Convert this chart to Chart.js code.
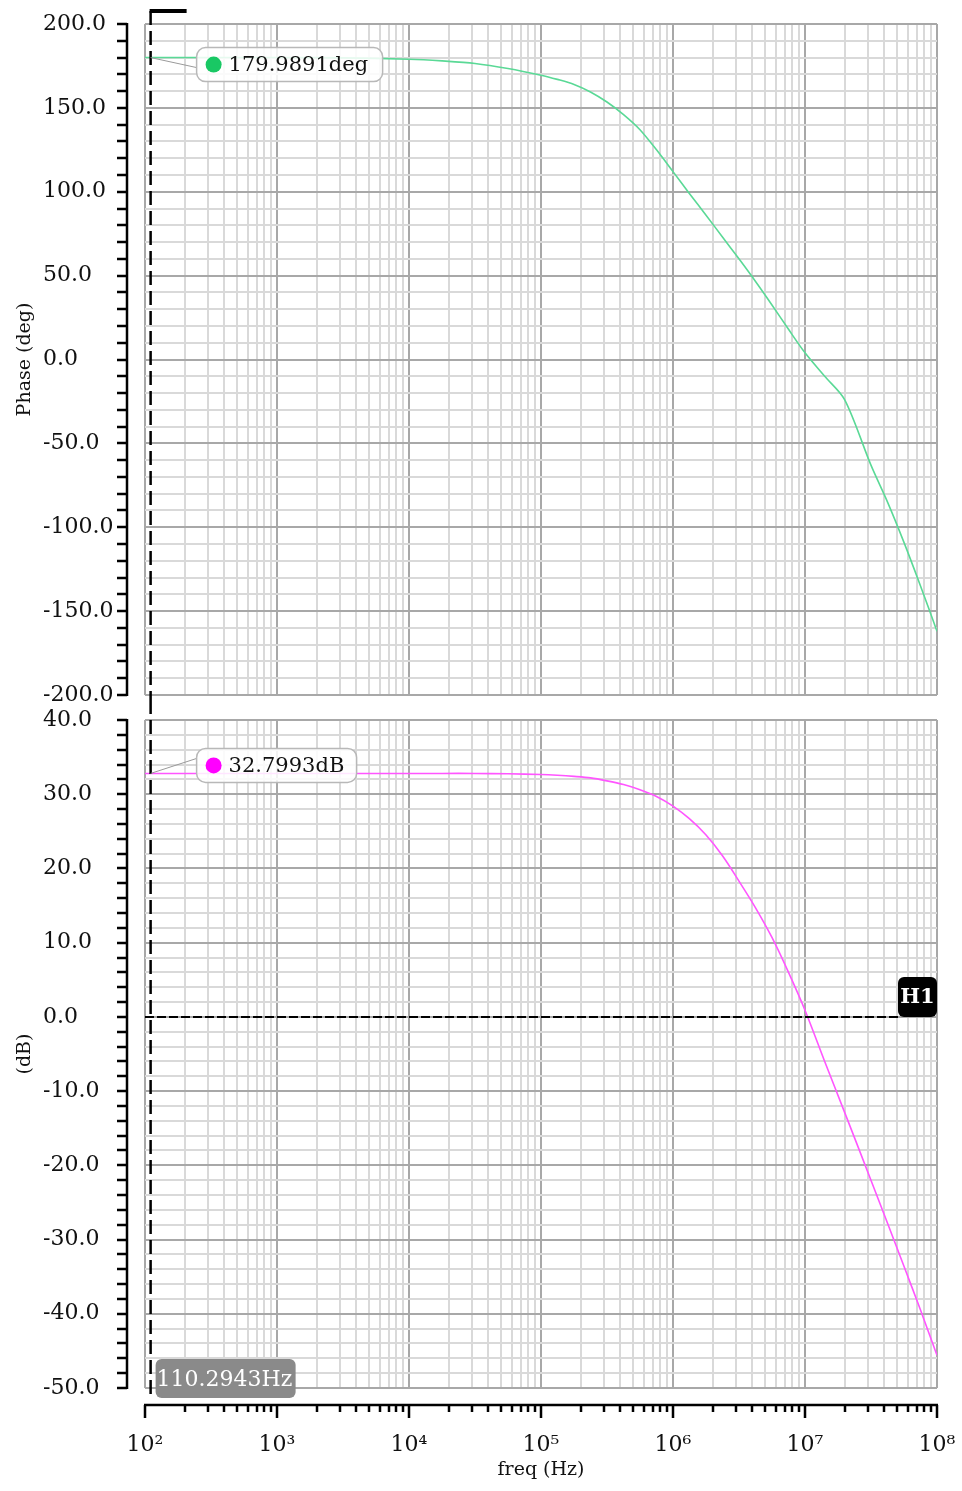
<!DOCTYPE html>
<html>
<head>
<meta charset="utf-8">
<script src="https://cdn.jsdelivr.net/npm/chart.js@4.4.1/dist/chart.umd.min.js"></script>
<style>
  html, body { margin: 0; padding: 0; background: #fff; }
  body { width: 962px; height: 1491px; position: relative; overflow: hidden; }
  canvas { position: absolute; left: 0; }
  #phase { top: 0; width: 962px; height: 712px; }
  #gain  { top: 700px; width: 962px; height: 791px; }
</style>
</head>
<body>
<canvas id="phase" width="962" height="712"></canvas>
<canvas id="gain" width="962" height="791"></canvas>
<script>
// ── Data ────────────────────────────────────────────────
const freqHz   = [1e2, 3.16e2, 1e3, 3.16e3, 1e4, 1.78e4, 3.16e4, 5.62e4,
                  1e5, 1.33e5, 1.78e5, 2.37e5, 3.16e5, 4.22e5, 5.62e5, 7.5e5,
                  1e6, 1.33e6, 1.78e6, 2.37e6, 3.16e6, 4.22e6, 5.62e6, 7.5e6,
                  1e7, 1.41e7, 2e7, 3.16e7, 4.22e7, 5.62e7, 7.5e7, 1e8];
const phaseDeg = [180, 180, 180, 179.8, 179, 178, 176.5, 173.5,
                  169.5, 167, 164, 159.5, 153.5, 146, 137, 125,
                  112, 99, 86, 73, 60, 46.5, 32.5, 18,
                  4, -10, -24, -63, -85, -109, -135, -162];
const gainDb   = [32.8, 32.8, 32.8, 32.8, 32.8, 32.8, 32.8, 32.75,
                  32.65, 32.55, 32.4, 32.2, 31.8, 31.3, 30.6, 29.7,
                  28.4, 26.7, 24.5, 21.7, 18.3, 14.7, 10.7, 6.0,
                  0.9, -6.0, -12.9, -22.0, -27.8, -33.6, -39.5, -45.6];

// axis ticks
const decadeHz     = [1e2, 1e3, 1e4, 1e5, 1e6, 1e7, 1e8];
const decadeLabels = ['10²', '10³', '10⁴', '10⁵', '10⁶', '10⁷', '10⁸'];
const minorSteps   = [2, 3, 4, 5, 6, 7, 8, 9];

// markers
const markerFreq  = 110.2943;
const markerPhase = 179.9891;
const markerGain  = 32.7993;
const h1Level     = 0;

// ── Shared look ─────────────────────────────────────────
const SERIF = '"DejaVu Serif", "Liberation Serif", serif';
const GRID_MINOR = '#d9d9d9';
const GRID_MAJOR = '#a8a8a8';
const PHASE_COLOR = '#5ad996';
const GAIN_COLOR  = '#ff55ff';

const xTickValues = [];
decadeHz.slice(0, -1).forEach(d => {
  xTickValues.push(d);
  minorSteps.forEach(m => xTickValues.push(d * m));
});
xTickValues.push(decadeHz[decadeHz.length - 1]);

const isDecade = v => decadeHz.some(d => Math.abs(d - v) < d * 1e-6);

function roundRect(ctx, x, y, w, h, r) {
  ctx.beginPath();
  ctx.moveTo(x + r, y);
  ctx.arcTo(x + w, y, x + w, y + h, r);
  ctx.arcTo(x + w, y + h, x, y + h, r);
  ctx.arcTo(x, y + h, x, y, r);
  ctx.arcTo(x, y, x + w, y, r);
  ctx.closePath();
}

// offset axis lines with tick marks (drawn apart from the plot box)
const offsetAxes = {
  id: 'offsetAxes',
  afterDraw(chart, args, o) {
    const { ctx, chartArea: a, scales: { x, y } } = chart;
    ctx.save();
    ctx.strokeStyle = '#000';
    ctx.lineWidth = 2.5;
    const ax = a.left - 18;
    ctx.beginPath();
    ctx.moveTo(ax, a.top - 1);
    ctx.lineTo(ax, a.bottom + 1);
    y.ticks.forEach(t => {
      const py = Math.round(y.getPixelForValue(t.value));
      ctx.moveTo(ax - 10, py);
      ctx.lineTo(ax, py);
    });
    ctx.stroke();
    if (o.xAxis) {
      const ay = a.bottom + 17;
      ctx.beginPath();
      ctx.moveTo(a.left - 1, ay);
      ctx.lineTo(a.right + 1, ay);
      xTickValues.forEach(v => {
        const px = Math.round(x.getPixelForValue(v));
        ctx.moveTo(px, ay);
        ctx.lineTo(px, ay + (isDecade(v) ? 13 : 7));
      });
      ctx.stroke();
    }
    ctx.restore();
  }
};

// marker cursor, value bubble, H1 line
const markers = {
  id: 'markers',
  afterDraw(chart, args, o) {
    const { ctx, chartArea: a, scales: { x, y } } = chart;
    const mx = x.getPixelForValue(markerFreq);
    const my = y.getPixelForValue(o.value);
    ctx.save();

    // H1 horizontal cursor
    if (o.h1) {
      const hy = Math.round(y.getPixelForValue(h1Level));
      ctx.strokeStyle = '#000';
      ctx.lineWidth = 2;
      ctx.setLineDash([9, 3]);
      ctx.beginPath();
      ctx.moveTo(a.left, hy);
      ctx.lineTo(a.right - 38, hy);
      ctx.stroke();
      ctx.setLineDash([]);
      ctx.fillStyle = '#000';
      roundRect(ctx, a.right - 39, hy - 40, 39, 40, 6);
      ctx.fill();
      ctx.fillStyle = '#fff';
      ctx.font = 'bold 21px ' + SERIF;
      ctx.textAlign = 'center';
      ctx.textBaseline = 'middle';
      ctx.fillText('H1', a.right - 19.5, hy - 19);
    }

    // vertical dashed cursor
    ctx.strokeStyle = '#000';
    ctx.lineWidth = 2.5;
    ctx.setLineDash([14, 6]);
    ctx.beginPath();
    ctx.moveTo(mx, o.lineTop);
    ctx.lineTo(mx, o.lineBottom);
    ctx.stroke();
    ctx.setLineDash([]);
    if (o.flag) {
      ctx.lineWidth = 4;
      ctx.beginPath();
      ctx.moveTo(mx - 1, o.lineTop);
      ctx.lineTo(mx + 36, o.lineTop);
      ctx.stroke();
    }

    // value bubble
    const bx = mx + 46, bw = o.bubbleW, bh = 34, by = my + o.bubbleDy;
    ctx.strokeStyle = '#9a9a9a';
    ctx.lineWidth = 1;
    ctx.beginPath();
    ctx.moveTo(mx, my);
    ctx.lineTo(bx, my + o.leaderDy);
    ctx.stroke();
    ctx.fillStyle = 'rgba(255,255,255,0.85)';
    ctx.strokeStyle = '#b8b8b8';
    ctx.lineWidth = 1.5;
    roundRect(ctx, bx, by, bw, bh, 9);
    ctx.fill();
    ctx.stroke();
    ctx.fillStyle = o.dotColor;
    ctx.beginPath();
    ctx.arc(bx + 17, by + 17, 8, 0, Math.PI * 2);
    ctx.fill();
    ctx.fillStyle = '#111';
    ctx.font = '21px ' + SERIF;
    ctx.textAlign = 'left';
    ctx.textBaseline = 'middle';
    ctx.fillText(o.text, bx + 32, by + 18);

    // frequency readout
    if (o.freqLabel) {
      ctx.fillStyle = '#8a8a8a';
      roundRect(ctx, mx + 5, a.bottom - 29, 140, 39, 6);
      ctx.fill();
      ctx.fillStyle = '#fff';
      ctx.font = '22px ' + SERIF;
      ctx.textAlign = 'left';
      ctx.textBaseline = 'middle';
      ctx.fillText(markerFreq.toFixed(4) + 'Hz', mx + 6, a.bottom - 8);
    }
    ctx.restore();
  }
};

function trimPadding(scale) {
  scale.paddingTop = 0; scale.paddingBottom = 0;
  scale.paddingLeft = 0; scale.paddingRight = 0;
}

function makeBodeChart(canvasId, cfg) {
  const ctx = document.getElementById(canvasId);
  return new Chart(ctx, {
    type: 'line',
    data: {
      datasets: [{
        data: freqHz.map((f, i) => ({ x: f, y: cfg.values[i] })),
        borderColor: cfg.color,
        borderWidth: 1.6,
        pointRadius: 0,
        tension: 0.3,
        fill: false,
      }]
    },
    options: {
      responsive: false,
      animation: false,
      layout: { padding: cfg.padding },
      plugins: {
        legend: { display: false },
        tooltip: { enabled: false },
        offsetAxes: { xAxis: cfg.showX },
        markers: cfg.markers,
      },
      scales: {
        x: {
          type: 'logarithmic',
          min: decadeHz[0],
          max: decadeHz[decadeHz.length - 1],
          afterBuildTicks: s => { s.ticks = xTickValues.map(v => ({ value: v, major: isDecade(v) })); },
          afterFit: s => { s.height = cfg.showX ? 103 : 0; trimPadding(s); },
          grid: {
            color: c => isDecade(c.tick.value) ? GRID_MAJOR : GRID_MINOR,
            lineWidth: 2,
            drawTicks: false,
          },
          border: { display: false },
          ticks: {
            display: cfg.showX,
            autoSkip: false,
            maxRotation: 0,
            padding: 44,
            color: '#111',
            font: { family: SERIF, size: 22 },
            callback: v => {
              const i = decadeHz.findIndex(d => Math.abs(d - v) < d * 1e-6);
              return i >= 0 ? decadeLabels[i] : '';
            },
          },
          title: {
            display: cfg.showX,
            text: 'freq (Hz)',
            color: '#111',
            font: { family: SERIF, size: 19 },
            padding: { top: 0, bottom: 10 },
          },
        },
        y: {
          min: cfg.min,
          max: cfg.max,
          afterFit: s => { s.width = 102; trimPadding(s); },
          grid: {
            color: c => c.tick.value % cfg.labelStep === 0 ? GRID_MAJOR : GRID_MINOR,
            lineWidth: 2,
            drawTicks: false,
          },
          border: { display: false },
          ticks: {
            stepSize: cfg.minorStep,
            autoSkip: false,
            crossAlign: 'far',
            color: '#111',
            font: { family: SERIF, size: 22 },
            callback: v => v % cfg.labelStep === 0 ? v.toFixed(1) : '',
          },
          title: {
            display: true,
            text: cfg.yTitle,
            color: '#111',
            font: { family: SERIF, size: 19 },
            padding: { top: -29, bottom: 0 },
          },
        },
      },
    },
    plugins: [offsetAxes, markers],
  });
}

makeBodeChart('phase', {
  values: phaseDeg,
  color: PHASE_COLOR,
  min: -200, max: 200, minorStep: 10, labelStep: 50,
  yTitle: 'Phase (deg)',
  showX: false,
  padding: { top: 24, bottom: 17, left: 43, right: 25 },
  markers: {
    value: markerPhase, text: markerPhase.toFixed(4) + 'deg', dotColor: '#19c864',
    bubbleW: 186, bubbleDy: -10, leaderDy: 10, lineTop: 11, lineBottom: 700, flag: true,
  },
});

makeBodeChart('gain', {
  values: gainDb,
  color: GAIN_COLOR,
  min: -50, max: 40, minorStep: 2, labelStep: 10,
  yTitle: '(dB)',
  showX: true,
  padding: { top: 20, bottom: 0, left: 43, right: 25 },
  markers: {
    value: markerGain, text: markerGain.toFixed(4) + 'dB', dotColor: '#ff00ff',
    bubbleW: 160, bubbleDy: -25, leaderDy: -15, lineTop: 0, lineBottom: 697, h1: true, freqLabel: true,
  },
});
</script>
</body>
</html>
